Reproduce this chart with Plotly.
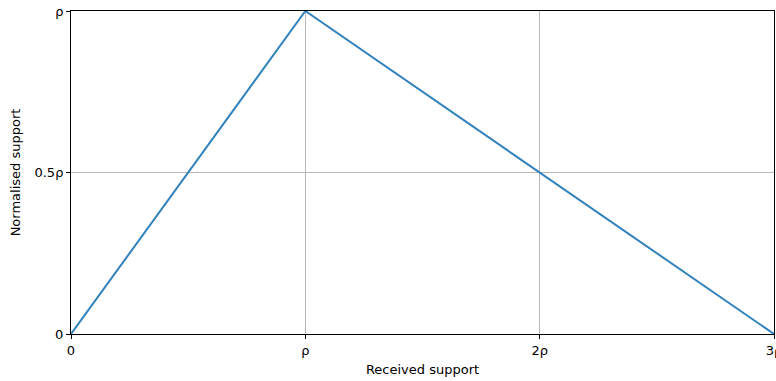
import plotly.graph_objects as go

x_vals = [0, 1, 3]
y_vals = [0, 1, 0]
x_tickvals = [0, 1, 2, 3]
x_ticktext = ["0", "ρ", "2ρ", "3ρ"]
y_tickvals = [0, 0.5, 1]
y_ticktext = ["0", "0.5ρ", "ρ"]

fig = go.Figure()
fig.add_trace(go.Scatter(x=x_vals, y=y_vals, mode="lines",
                         line=dict(color="#3182bd", width=2), cliponaxis=False,
                         showlegend=False))
fig.update_layout(
    width=776, height=381,
    margin=dict(l=71, r=2, t=11, b=47, autoexpand=False),
    paper_bgcolor="white", plot_bgcolor="white",
    font=dict(family="DejaVu Sans", size=13, color="black"),
)
fig.update_xaxes(range=[0, 3], tickvals=x_tickvals, ticktext=x_ticktext,
                 ticklabeloverflow="allow", automargin=False,
                 showline=True, linecolor="black", linewidth=1, mirror=True,
                 ticks="outside", ticklen=4, tickcolor="black",
                 showgrid=True, gridcolor="#b8b8b8", gridwidth=1, zeroline=False,
                 title=dict(text="Received support", font=dict(size=13), standoff=8))
fig.update_yaxes(range=[0, 1], tickvals=y_tickvals, ticktext=y_ticktext,
                 automargin=False,
                 showline=True, linecolor="black", linewidth=1, mirror=True,
                 ticks="outside", ticklen=4, tickcolor="black",
                 showgrid=True, gridcolor="#b8b8b8", gridwidth=1, zeroline=False,
                 title=dict(text="Normalised support", font=dict(size=13), standoff=10))
fig.write_html("out.html", config={"displayModeBar": False},
               post_script="document.body.style.margin='0';document.body.style.overflow='hidden';")
